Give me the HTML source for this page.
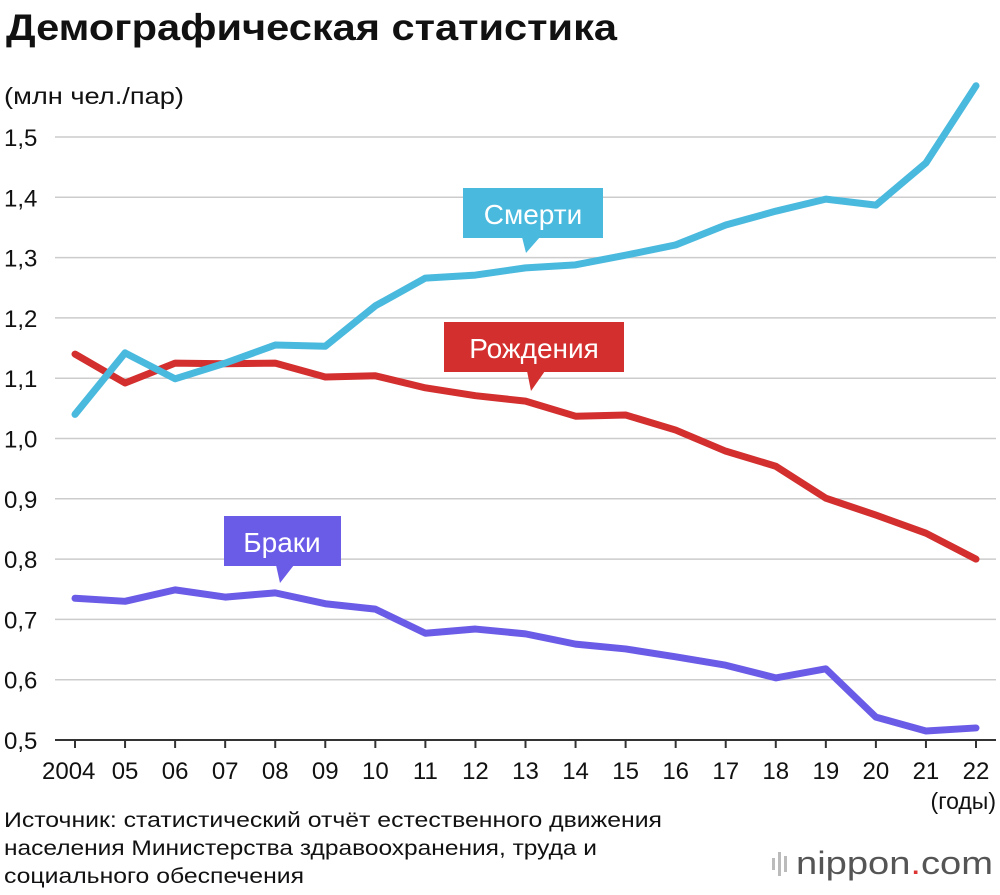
<!DOCTYPE html>
<html><head><meta charset="utf-8"><style>
body{margin:0;background:#fff;width:1000px;height:890px;overflow:hidden;font-family:"Liberation Sans",sans-serif}
</style></head><body>
<svg width="1000" height="890" xmlns="http://www.w3.org/2000/svg" font-family="Liberation Sans, sans-serif">
<text x="6" y="40" font-size="37" font-weight="bold" fill="#111" textLength="611" lengthAdjust="spacingAndGlyphs">Демографическая статистика</text>
<text x="4" y="104" font-size="23" fill="#111" textLength="180" lengthAdjust="spacingAndGlyphs">(млн чел./пар)</text>
<g id="grid"></g><g id="lines"></g>
<text x="996" y="809" font-size="23" text-anchor="end" fill="#111">(годы)</text>
<text font-size="21" fill="#111"><tspan x="4" y="827" textLength="658" lengthAdjust="spacingAndGlyphs">Источник: статистический отчёт естественного движения</tspan><tspan x="4" y="855" textLength="593" lengthAdjust="spacingAndGlyphs">населения Министерства здравоохранения, труда и</tspan><tspan x="4" y="883" textLength="300" lengthAdjust="spacingAndGlyphs">социального обеспечения</tspan></text>
<g><rect x="772" y="858" width="3" height="12" fill="#bbb"/><rect x="778" y="852" width="3" height="24" fill="#bbb"/><rect x="784" y="856" width="3" height="16" fill="#bbb"/>
<text x="796" y="874" font-size="32" fill="#555" textLength="197" lengthAdjust="spacingAndGlyphs">nippon<tspan fill="#d33">.</tspan>com</text></g>
<g><rect x="463" y="188" width="140" height="50" fill="#4ab9de"/><polygon points="522,237 540,237 526,253" fill="#4ab9de"/><text x="533" y="224" font-size="28" fill="#fff" text-anchor="middle">Смерти</text></g>
<g><rect x="444" y="322" width="180" height="50" fill="#d32f2f"/><polygon points="527,371 545,371 531,391" fill="#d32f2f"/><text x="534" y="358" font-size="28" fill="#fff" text-anchor="middle">Рождения</text></g>
<g><rect x="224" y="516" width="117" height="50" fill="#6b5ce7"/><polygon points="276,565 294,565 280,583" fill="#6b5ce7"/><text x="282" y="552" font-size="28" fill="#fff" text-anchor="middle">Браки</text></g>
</svg>
<script>
const years=["2004","05","06","07","08","09","10","11","12","13","14","15","16","17","18","19","20","21","22"];
const yTicks=[0.5,0.6,0.7,0.8,0.9,1.0,1.1,1.2,1.3,1.4,1.5];
const deaths=[1.04,1.142,1.099,1.125,1.155,1.153,1.22,1.266,1.271,1.283,1.288,1.304,1.321,1.354,1.377,1.397,1.387,1.457,1.585];
const births=[1.14,1.092,1.125,1.124,1.125,1.102,1.104,1.084,1.071,1.062,1.037,1.039,1.014,0.979,0.954,0.901,0.873,0.843,0.8];
const marriages=[0.735,0.73,0.749,0.737,0.744,0.726,0.717,0.677,0.684,0.676,0.659,0.651,0.638,0.624,0.603,0.618,0.538,0.515,0.52];
const NS="http://www.w3.org/2000/svg";
const X=i=>75+i*(901/18), Y=v=>740-(v-0.5)*603;
function mk(t,a,p){const e=document.createElementNS(NS,t);for(const k in a)e.setAttribute(k,a[k]);p.appendChild(e);return e;}
const g=document.getElementById('grid');
yTicks.forEach(v=>{
 const l=mk('line',{x1:55,x2:996,y1:Y(v),y2:Y(v),stroke:v===0.5?'#333':'#ccc','stroke-width':v===0.5?2:1.5},g);
 
 
 const t=mk('text',{x:4,y:Y(v)+9,'font-size':24,fill:'#111'},g);t.textContent=v.toFixed(1).replace('.',',');
 
 
});
years.forEach((y,i)=>{
 const l=mk('line',{x1:X(i),x2:X(i),y1:740,y2:748,stroke:'#333','stroke-width':2},g);
 
 
 const t=mk('text',{x:i===0?42:X(i),y:779,'font-size':24,fill:'#111','text-anchor':i===0?'start':'middle'},g);t.textContent=y;
 
 
});
const L=document.getElementById('lines');
[[marriages,'#6b5ce7','marriages-line'],[births,'#d32f2f','births-line'],[deaths,'#4ab9de','deaths-line']].forEach(([d,c,n])=>{
 const p=mk('polyline',{points:d.map((v,i)=>X(i)+','+Y(v)).join(' '),fill:'none',stroke:c,'stroke-width':7,'stroke-linejoin':'round','stroke-linecap':'round'},L);
 
 
});
</script>
</body></html>
